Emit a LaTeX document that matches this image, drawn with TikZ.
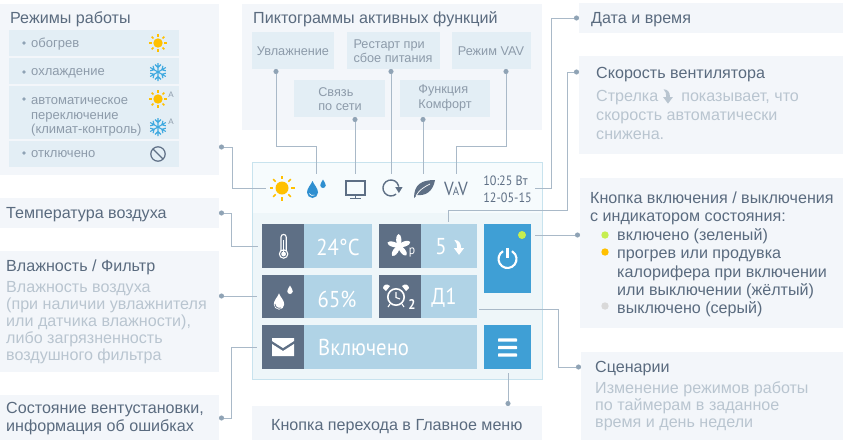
\documentclass[tikz,border=0pt]{standalone}
\usepackage{fontspec}
\setmainfont{Liberation Sans}
\newfontfamily\tilefont[FakeStretch=0.9]{PT Sans}
\usetikzlibrary{arrows.meta}
\definecolor{panelbg}{HTML}{F3F6FA}
\definecolor{subbg}{HTML}{E3EEF5}
\definecolor{titlecol}{HTML}{5A6B7F}
\definecolor{hintcol}{HTML}{8D9BAA}
\definecolor{bodycol}{HTML}{B9C5D0}
\definecolor{linecol}{HTML}{A9B9C8}
\definecolor{dotcol}{HTML}{8FA3B5}
\definecolor{slate}{HTML}{5E6F85}
\definecolor{tilelight}{HTML}{B0D3E6}
\definecolor{btnblue}{HTML}{3F9FD5}
\definecolor{sunyellow}{HTML}{FFC000}
\definecolor{iceblue}{HTML}{3FA9E0}
\definecolor{dropblue}{HTML}{2F8FD0}
\definecolor{devtop}{HTML}{F6FBFD}
\definecolor{devbottom}{HTML}{EEF6F9}
\definecolor{devborder}{HTML}{C8E3EE}
\definecolor{limedot}{HTML}{C6EE50}
\tikzset{
    box/.style={anchor=north west, inner sep=0pt, outer sep=0pt},
    panel/.style={box, fill=panelbg},
    subbox/.style={box, fill=subbg},
    darktile/.style={box, fill=slate},
    lighttile/.style={box, fill=tilelight},
    bluebtn/.style={box, fill=btnblue},
    title/.style={anchor=west, inner sep=0pt, align=left, yshift=-1.5pt, text=titlecol, font=\fontsize{16.1}{18.3}\selectfont},
    body/.style={anchor=north west, inner sep=0pt, align=left, text=bodycol, font=\fontsize{16.1}{17}\selectfont},
    modetext/.style={anchor=west, inner sep=0pt, align=left, yshift=-1.5pt, text=hintcol, font=\fontsize{13}{14.8}\selectfont},
    hintext/.style={anchor=center, inner sep=0pt, align=left, text=hintcol, font=\fontsize{12.7}{14.5}\selectfont},
    tiletext/.style={anchor=center, inner sep=0pt, text=white, font=\tilefont\fontsize{23}{26}\selectfont},
    leader/.style={draw=linecol, line width=0.8pt, {Circle[length=5pt,color=dotcol]}-},
    sunicon/.pic={
        \fill[sunyellow] (0,0) circle (6.5);
        \foreach \ang in {0,45,...,315}
            \draw[sunyellow, line width=1.7pt] (\ang:9) -- (\ang:12.5);
    },
    flakeicon/.pic={
        \foreach \ang in {30,90,...,330} {
            \draw[iceblue, line width=1.1pt, rotate=\ang] (0,0) -- (10,0)
                (5,0) -- ++(3.2,3.2) (5,0) -- ++(3.2,-3.2);
        }
    },
    dropicon/.pic={
        \fill[pic actions] (0,-9) .. controls (1.5,-5) and (5.5,-2) .. (5.5,2.5)
            .. controls (5.5,5.5) and (3,8) .. (0,8)
            .. controls (-3,8) and (-5.5,5.5) .. (-5.5,2.5)
            .. controls (-5.5,-2) and (-1.5,-5) .. (0,-9) -- cycle;
    },
    turnarrow/.pic={
        \fill[pic actions] (-4,-7) .. controls (0,-7) and (1.8,-4) .. (1.8,0) -- (4.5,0) -- (0,6)
            -- (-4.5,0) -- (-1.6,0) .. controls (-1.6,-3) and (-2,-5) .. (-4,-7) -- cycle;
    }
}
\begin{document}
\begin{tikzpicture}[x=1pt, y=-1pt]
    \useasboundingbox (0,0) rectangle (843,445);

    % panels
    \node[panel, minimum width=219pt, minimum height=171pt] (modes) at (0,4) {};
    \node[panel, minimum width=300pt, minimum height=126pt] (picto) at (242,4) {};
    \node[panel, minimum width=264pt, minimum height=30pt] (clock) at (579,3) {};
    \node[panel, minimum width=264pt, minimum height=98pt] (speed) at (579,56) {};
    \node[panel, minimum width=263pt, minimum height=150pt] (power) at (580,178) {};
    \node[panel, minimum width=262pt, minimum height=88pt] (scen) at (581,352) {};
    \node[panel, minimum width=219pt, minimum height=30pt] (temp) at (0,198) {};
    \node[panel, minimum width=219pt, minimum height=121pt] (humid) at (0,251) {};
    \node[panel, minimum width=219pt, minimum height=45pt] (state) at (0,395) {};
    \node[panel, minimum width=290pt, minimum height=34pt] (menu) at (252,406) {};

    % mode list
    \node[title] (modesT) at (10,18) {Режимы работы};
    \node[subbox, minimum width=170pt, minimum height=26pt] (mode1) at (9,30) {};
    \node[subbox, minimum width=170pt, minimum height=26pt] (mode2) at (9,58) {};
    \node[subbox, minimum width=170pt, minimum height=53pt] (mode3) at (9,86) {};
    \node[subbox, minimum width=170pt, minimum height=26pt] (mode4) at (9,141) {};
    \node[modetext] (mode1T) at (31,42.5) {обогрев};
    \node[modetext] (mode2T) at (31,71.5) {охлаждение};
    \node[modetext] (mode3T) at (31,115.5) {автоматическое\\переключение\\(климат-контроль)};
    \node[modetext] (mode4T) at (31,152.5) {отключено};
    \foreach \py in {43,72,99,153}
        \fill[dotcol] (24,\py) circle (1.8);
    \pic[scale=.72] at (158,43) {sunicon};
    \pic[scale=.9] at (158,72) {flakeicon};
    \pic[scale=.72] at (158,99) {sunicon};
    \pic[scale=.9] at (158,127) {flakeicon};
    \node[inner sep=0pt, text=hintcol, font=\fontsize{8}{9}\selectfont] (autoA) at (171,95) {А};
    \node[inner sep=0pt, text=hintcol, font=\fontsize{8}{9}\selectfont] (autoB) at (171,122) {А};
    \draw[slate, line width=1.2pt] (158,154) circle (7.2) (153,149) -- (163,159);

    % pictogram labels
    \node[title] (pictoT) at (253,18) {Пиктограммы активных функций};
    \node[subbox, minimum width=82pt, minimum height=37pt] (humidB) at (252,32) {};
    \node[subbox, minimum width=93pt, minimum height=37pt] (restartB) at (347,32) {};
    \node[subbox, minimum width=79pt, minimum height=37pt] (vavB) at (452,32) {};
    \node[subbox, minimum width=91pt, minimum height=37pt] (netB) at (294,80) {};
    \node[subbox, minimum width=90pt, minimum height=37pt] (comfB) at (400,80) {};
    \node[hintext] (humidT) at (293,51) {Увлажнение};
    \node[hintext] (restartT) at (393,51) {Рестарт при\\сбое питания};
    \node[hintext] (vavT) at (491,51) {Режим VAV};
    \node[hintext] (netT) at (340,99) {Связь\\по сети};
    \node[hintext] (comfT) at (445,98) {Функция\\Комфорт};

    % device
    \node[box, fill=devbottom, draw=devborder, line width=0.8pt, minimum width=290pt, minimum height=217pt] (device) at (252,162) {};
    \fill[devtop] (252.5,162.5) rectangle (541.5,213);
    \pic at (282,188) {sunicon};
    \pic[fill=dropblue] at (312.5,190) {dropicon};
    \pic[fill=dropblue, scale=.5] at (323,184) {dropicon};
    \fill[white] (309,193) .. controls (310,196) and (312,196) .. (315,195) .. controls (312,195) and (310,195) .. (309,193) -- cycle;
    \draw[slate, line width=1.5pt] (346,181) rectangle (365,195);
    \draw[slate, line width=1.5pt] (355.5,195) -- (355.5,198) (350,198.5) -- (361,198.5);
    \draw[slate, line width=1.4pt] (396.1,194.1) arc[start angle=50, end angle=350, radius=8];
    \fill[slate] (395.2,187) -- (402.6,187) -- (398.9,193) -- cycle;
    \fill[slate] (414,198) .. controls (414,184) and (422,180) .. (435,180) .. controls (433,192) and (425,196) .. (417,195) -- cycle;
    \draw[white, line width=0.7pt] (416,196) .. controls (419,190) and (424,187) .. (430,184);
    \node[inner sep=0pt, text=slate, font=\tilefont\fontsize{19}{20}\selectfont] (vavI) at (456,189) {V\kern-1pt{\fontsize{12}{14}\selectfont A}\kern-1pt V};
    \node[inner sep=0pt, align=left, text=slate, font=\tilefont\fontsize{13.5}{17}\selectfont] (dateT) at (507.5,189) {10:25 Вт\\12-05-15};

    % tiles
    \node[darktile, minimum width=42pt, minimum height=44pt] (t1) at (262,224) {};
    \node[lighttile, minimum width=68pt, minimum height=44pt] (t1v) at (304,224) {};
    \node[darktile, minimum width=42pt, minimum height=44pt] (t2) at (379,224) {};
    \node[lighttile, minimum width=56pt, minimum height=44pt] (t2v) at (421,224) {};
    \node[darktile, minimum width=42pt, minimum height=43pt] (t3) at (262,275) {};
    \node[lighttile, minimum width=68pt, minimum height=43pt] (t3v) at (304,275) {};
    \node[darktile, minimum width=42pt, minimum height=43pt] (t4) at (379,275) {};
    \node[lighttile, minimum width=56pt, minimum height=43pt] (t4v) at (421,275) {};
    \node[darktile, minimum width=42pt, minimum height=44pt] (t5) at (262,325) {};
    \node[lighttile, minimum width=173pt, minimum height=44pt] (t5v) at (304,325) {};
    \node[bluebtn, minimum width=47pt, minimum height=69pt] (powerB) at (484,224) {};
    \node[bluebtn, minimum width=47pt, minimum height=44pt] (menuB) at (484,325) {};

    \node[tiletext] (tempV) at (338,247) {24°C};
    \node[tiletext] (humV) at (337,299) {65\%};
    \node[tiletext] (fanV) at (441,247) {5};
    \node[tiletext] (scenV) at (444,298) {Д1};
    \node[tiletext, anchor=west] (stateV) at (318,347) {Включено};
    \pic[fill=white, scale=1.15] at (459,248) {turnarrow};

    % thermometer
    \draw[white, line width=1.1pt] (281,252) -- (281,237) arc[start angle=180, end angle=360, radius=2.6] -- (286.2,252);
    \draw[white, line width=1.1pt, fill=slate] (283.6,254) circle (4.2);
    \fill[white] (283.6,254) circle (2.4);
    \fill[white] (282.9,240) rectangle (284.3,253);
    % fan
    \foreach \ang in {20,92,164,236,308}
        \fill[white, rotate around={\ang:(399,246)}] (405,246) ellipse (6 and 2.6);
    \fill[white] (399,246) circle (2.5);
    \node[inner sep=0pt, text=white, font=\tilefont\fontsize{13}{14}\selectfont] (fanP) at (412,252) {р};
    % drops and clock
    \pic[fill=white, scale=.95] at (279,302) {dropicon};
    \pic[fill=white, scale=.5] at (290,290) {dropicon};
    \draw[slate, line width=0.8pt] (275,304) .. controls (275,307) and (278,309) .. (281,308);
    \draw[white, line width=1.6pt] (396,297) circle (8.2);
    \draw[white, line width=1.1pt] (396,292) -- (396,297.5) -- (400,299);
    \fill[white] (386,291) -- (390,286) .. controls (387,283) and (383,285) .. (383,288) -- cycle;
    \fill[white] (406,291) -- (402,286) .. controls (405,283) and (409,285) .. (409,288) -- cycle;
    \draw[white, line width=1.1pt] (390,304) -- (388,307) (402,304) -- (404,307);
    \node[inner sep=0pt, text=white, font=\tilefont\bfseries\fontsize{14}{15}\selectfont] (clockN) at (412,304) {2};
    % envelope
    \fill[white] (272,338) -- (294,338) -- (294,341) -- (283,348) -- (272,341) -- cycle;
    \fill[white] (272,344) -- (283,351) -- (294,344) -- (294,356) -- (272,356) -- cycle;
    % power and menu buttons
    \fill[limedot] (522,235) circle (4);
    \draw[white, line width=2.1pt] (503,251.2) arc[start angle=-120, end angle=-420, radius=9];
    \draw[white, line width=2.1pt] (507.5,248) -- (507.5,258);
    \foreach \py in {340,347.5,355}
        \fill[white, rounded corners=0.6pt] (498,\py-1.6) rectangle (517,\py+1.6);

    % left and right texts
    \node[title] (tempT) at (6,213) {Температура воздуха};
    \node[title] (humidT2) at (6,266) {Влажность / Фильтр};
    \node[body] (humidD) at (6,281.5) {Влажность воздуха\\(при наличии увлажнителя\\или датчика влажности),\\либо загрязненность\\воздушного фильтра};
    \node[title] (stateT) at (6,417) {Состояние вентустановки,\\информация об ошибках};
    \node[title] (menuT) at (271,425) {Кнопка перехода в Главное меню};
    \node[title] (clockT) at (591,18) {Дата и время};
    \node[title] (speedT) at (596,73) {Скорость вентилятора};
    \node[body, font=\fontsize{16.1}{19}\selectfont] (speedD) at (596,90) {Стрелка\hspace{23pt}показывает, что\\скорость автоматически\\снижена.};
    \pic[fill=bodycol, scale=1.1] at (668,97) {turnarrow};
    \node[title, anchor=north west] (powerT) at (590,190) {Кнопка включения / выключения\\с индикатором состояния:};
    \node[title, anchor=north west] (powerL) at (617,227) {включено (зеленый)\\прогрев или продувка\\калорифера при включении\\или выключении (жёлтый)\\выключено (серый)};
    \fill[limedot] (605,235) circle (3.7);
    \fill[sunyellow] (605,252) circle (3.7);
    \fill[black!15] (605,306) circle (3.7);
    \node[title] (scenT) at (595,367) {Сценарии};
    \node[body] (scenD) at (595,381.5) {Изменение режимов работы\\по таймерам в заданное\\время и день недели};

    % connector ends
    \coordinate (modesDot) at (219,147);
    \coordinate (modesEnd) at (266,188);
    \coordinate (tempDot) at (219,213);
    \coordinate (tempEnd) at (258,246);
    \coordinate (humDot) at (219,296);
    \coordinate (humEnd) at (257,296);
    \coordinate (stateDot) at (219,418);
    \coordinate (stateEnd) at (257,347);
    \coordinate (menuDot) at (508,406);
    \coordinate (menuEnd) at (508,373);
    \coordinate (scenDot) at (581,367);
    \coordinate (scenEnd) at (479,309);
    \coordinate (powerDot) at (580,235);
    \coordinate (powerEnd) at (535,235);
    \coordinate (speedDot) at (579,72);
    \coordinate (speedEnd) at (448,222);
    \coordinate (clockDot) at (579,18);
    \coordinate (clockEnd) at (535,188);
    \coordinate (humidDot) at (276,69);
    \coordinate (humidEnd) at (316,174);
    \coordinate (netDot) at (355,117);
    \coordinate (netEnd) at (355,174);
    \coordinate (restartDot) at (391,69);
    \coordinate (restartEnd) at (391,174);
    \coordinate (comfDot) at (423,117);
    \coordinate (comfEnd) at (423,174);
    \coordinate (vavDot) at (506,69);
    \coordinate (vavEnd) at (456,174);

    % connectors
    \draw[leader] (modesDot) -- ++(13,0) |- (modesEnd);
    \draw[leader] (tempDot) -- ++(12,0) |- (tempEnd);
    \draw[leader] (humDot) -- (humEnd);
    \draw[leader] (stateDot) -- ++(12,0) |- (stateEnd);
    \draw[leader] (menuDot) -- (menuEnd);
    \draw[leader] (scenDot) -- ++(-23,0) |- (scenEnd);
    \draw[leader] (powerDot) -- (powerEnd);
    \draw[leader] (speedDot) -- ++(-12,0) |- (448,210) -- (speedEnd);
    \draw[leader] (clockDot) -- ++(-28,0) |- (clockEnd);
    \draw[leader] (humidDot) |- (316,146) -- (humidEnd);
    \draw[leader] (netDot) -- (netEnd);
    \draw[leader] (restartDot) -- (restartEnd);
    \draw[leader] (comfDot) -- (comfEnd);
    \draw[leader] (vavDot) |- (456,146) -- (vavEnd);
\end{tikzpicture}
\end{document}
